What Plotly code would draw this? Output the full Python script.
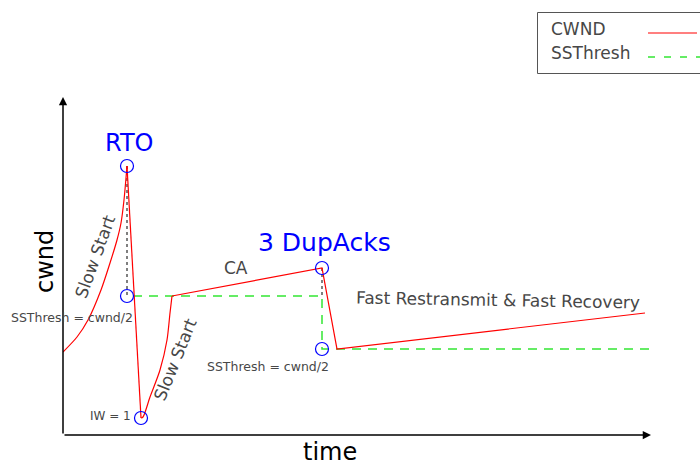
import plotly.graph_objects as go

# ---- data (time, cwnd) ----
# slow start after connection start
ss1_time = [0, 14, 25, 38, 47, 54, 58, 61, 64]
ss1_value = [83, 98, 115, 145, 172, 195, 212, 235, 269]
# RTO collapse to IW = 1
rto_time = [64, 78]
rto_value = [269, 17]
# second slow start
ss2_time = [78, 80, 87, 97, 104, 107, 109]
ss2_value = [17, 18, 38, 65, 95, 122, 139]
# congestion avoidance, 3 dupacks, fast recovery
ca_time = [109, 259, 274, 582]
ca_value = [139, 167, 86, 122]

ssthresh_time = [70, 259, 259, 592]
ssthresh_value = [139, 139, 86, 86]

event_time = [64, 64, 78, 259, 259]
event_value = [269, 139, 17, 167, 86]

drop1_time = [64, 64]
drop1_value = [269, 139]
drop2_time = [259, 259]
drop2_value = [167, 139]

X_MAX = 592
Y_MAX = 338

L, R, T, B = 63, 45, 97, 32
W, H = 700, 467
PW, PH = W - L - R, H - T - B


def px(xp):
    return (xp - L) / PW


def py(yp):
    return (H - B - yp) / PH


RED = "#ff0000"
GREEN = "#33e633"
BLUE = "#0000ff"
GRAY = "#474747"
FONT = "DejaVu Sans"

fig = go.Figure()

for xs, ys in [(drop1_time, drop1_value), (drop2_time, drop2_value)]:
    fig.add_trace(go.Scatter(x=xs, y=ys, mode="lines",
                             line=dict(color="#555555", width=1.5, dash="3px,3px"),
                             showlegend=False, hoverinfo="skip"))
fig.add_trace(go.Scatter(x=ssthresh_time, y=ssthresh_value, mode="lines",
                         line=dict(color=GREEN, width=1.5, dash="9px,7px"),
                         showlegend=False, hoverinfo="skip"))
for xs, ys, shp in [(ss1_time, ss1_value, "spline"), (rto_time, rto_value, "linear"),
                    (ss2_time, ss2_value, "spline"), (ca_time, ca_value, "linear")]:
    fig.add_trace(go.Scatter(x=xs, y=ys, mode="lines",
                             line=dict(color=RED, width=1.2, shape=shp, smoothing=0.8),
                             showlegend=False, hoverinfo="skip"))
fig.add_trace(go.Scatter(x=event_time, y=event_value, mode="markers",
                         marker=dict(symbol="circle-open", size=13,
                                     color=BLUE, line=dict(width=1.2, color=BLUE)),
                         showlegend=False, hoverinfo="skip", cliponaxis=False))

ann = []
# axis arrows
ann.append(dict(x=588, y=0, ax=0, ay=0, xref="x", yref="y", axref="x", ayref="y",
                text="", showarrow=True, arrowhead=2, arrowsize=1.1, arrowwidth=1.5,
                arrowcolor="black", standoff=0))
ann.append(dict(x=0, y=Y_MAX, ax=0, ay=0, xref="x", yref="y", axref="x", ayref="y",
                text="", showarrow=True, arrowhead=2, arrowsize=1.1, arrowwidth=1.5,
                arrowcolor="black", standoff=0))


def label(xp, yp, text, size, color=GRAY, angle=0, yanchor="middle"):
    ann.append(dict(x=px(xp), y=py(yp), xref="paper", yref="paper", text=text,
                    showarrow=False, xanchor="center", yanchor=yanchor,
                    textangle=angle, font=dict(family=FONT, size=size, color=color)))


label(129, 143, "RTO", 24, BLUE)
label(324, 242, "3 DupAcks", 25, BLUE)
label(236, 268, "CA", 17)
label(498, 300, "Fast Restransmit &amp; Fast Recovery", 17, angle=1)
label(72, 317, "SSThresh = cwnd/2", 12.5)
label(268, 366, "SSThresh = cwnd/2", 12.5)
label(110, 416, "IW = 1", 12)
label(95, 257, "Slow Start", 17, angle=-70)
label(175, 360, "Slow Start", 17, angle=-68)
label(45, 262, "cwnd", 24, "black", angle=-90)
label(330, 468, "time", 24, "black", yanchor="bottom")

# legend (text on left, line sample on right)
ann.append(dict(x=px(549), y=py(29), xref="paper", yref="paper", text="CWND",
                showarrow=False, xanchor="left", yanchor="middle",
                font=dict(family=FONT, size=17, color=GRAY)))
ann.append(dict(x=px(549), y=py(53), xref="paper", yref="paper", text="SSThresh",
                showarrow=False, xanchor="left", yanchor="middle",
                font=dict(family=FONT, size=17, color=GRAY)))

shapes = [
    dict(type="rect", xref="paper", yref="paper", x0=px(537.5), x1=px(710),
         y0=py(12.5), y1=py(73.5), line=dict(color="#555555", width=1)),
    dict(type="line", xref="paper", yref="paper", x0=px(648), x1=px(697),
         y0=py(33), y1=py(33), line=dict(color=RED, width=1.2)),
    dict(type="line", xref="paper", yref="paper", x0=px(648), x1=px(700),
         y0=py(57), y1=py(57), line=dict(color=GREEN, width=1.5, dash="7px,9px")),
]

fig.update_layout(
    width=W, height=H,
    margin=dict(l=L, r=R, t=T, b=B, pad=0),
    paper_bgcolor="white", plot_bgcolor="white",
    xaxis=dict(range=[0, X_MAX], visible=False, fixedrange=True),
    yaxis=dict(range=[0, Y_MAX], visible=False, fixedrange=True),
    annotations=ann, shapes=shapes, showlegend=False,
)

fig.write_html("out.html", config={"displayModeBar": False},
               post_script="document.body.style.margin='0';document.body.style.overflow='hidden';")
